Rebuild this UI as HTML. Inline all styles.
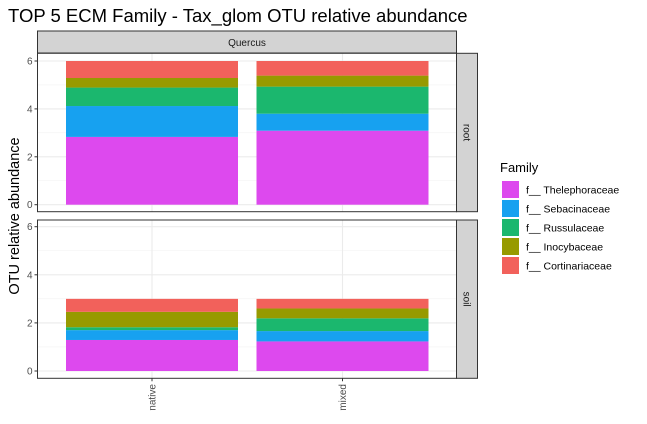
<!DOCTYPE html>
<html><head><meta charset="utf-8"><style>
body{margin:0;background:#fff}
svg{display:block;font-family:"Liberation Sans",sans-serif}
</style></head><body>
<svg id="c" width="647" height="424"></svg>
<script>
const categories=["native","mixed"];
const families=["f__ Thelephoraceae","f__ Sebacinaceae","f__ Russulaceae","f__ Inocybaceae","f__ Cortinariaceae"];
const colors=["#DD49EE","#17A1F0","#1BB76E","#979A00","#F2615B"];
const rootNative=[2.83,1.29,0.77,0.40,0.71];
const rootMixed=[3.09,0.71,1.13,0.46,0.61];
const soilNative=[1.29,0.41,0.12,0.64,0.54];
const soilMixed=[1.23,0.43,0.53,0.41,0.40];
const yTicks=[0,2,4,6];
const panels=[{label:"root",top:53.3,bottom:211.7,y0:204.7,y6:61,data:[rootNative,rootMixed]},
{label:"soil",top:220,bottom:378.3,y0:371,y6:226.7,data:[soilNative,soilMixed]}];
const NS="http://www.w3.org/2000/svg";
const svg=document.getElementById('c');
function mk(t,a,p){const e=document.createElementNS(NS,t);for(const k in a)e.setAttribute(k,a[k]);(p||svg).appendChild(e);return e;}
const L=37.5,R=456.5;
function xc(i){return 152+i*190.5;}
const bw=172;
let t=mk('text',{x:8,y:22,'font-size':18.5,fill:'#000'});t.textContent="TOP 5 ECM Family - Tax_glom OTU relative abundance";

let s=mk('rect',{x:L,y:31,width:R-L,height:22,fill:'#d3d3d3',stroke:'#333','stroke-width':1});

t=mk('text',{x:(L+R)/2,y:46,'font-size':10,'text-anchor':'middle',fill:'#1a1a1a'});t.textContent="Quercus";

panels.forEach(p=>{
 const sc=(p.y0-p.y6)/6; const y=v=>p.y0-v*sc;
 const g=mk('g',{});
 mk('rect',{x:L,y:p.top,width:R-L,height:p.bottom-p.top,fill:'#fff'},g);
 [1,3,5].forEach(v=>mk('line',{x1:L,x2:R,y1:y(v),y2:y(v),stroke:'#f2f2f2','stroke-width':0.6},g));
 yTicks.forEach(v=>mk('line',{x1:L,x2:R,y1:y(v),y2:y(v),stroke:'#ebebeb','stroke-width':1.1},g));
 categories.forEach((c,i)=>mk('line',{x1:xc(i),x2:xc(i),y1:p.top,y2:p.bottom,stroke:'#ebebeb','stroke-width':1.1},g));
 p.data.forEach((vals,i)=>{let cum=0;vals.forEach((v,k)=>{
  const r=mk('rect',{x:xc(i)-bw/2,y:y(cum+v),width:bw,height:v*sc,fill:colors[k]},g);
  
  cum+=v;});});
 mk('rect',{x:L,y:p.top,width:R-L,height:p.bottom-p.top,fill:'none',stroke:'#333','stroke-width':1},g);
 yTicks.forEach(v=>{mk('line',{x1:L-3,x2:L,y1:y(v),y2:y(v),stroke:'#333'},g);
  const tt=mk('text',{x:L-5,y:y(v)+3.5,'font-size':10,'text-anchor':'end',fill:'#4d4d4d'},g);tt.textContent=v;
  });
 const st=mk('rect',{x:R,y:p.top,width:21,height:p.bottom-p.top,fill:'#d3d3d3',stroke:'#333','stroke-width':1},g);
 
 const cy=(p.top+p.bottom)/2;
 const lt=mk('text',{x:R+10.5,y:cy,'font-size':10,'text-anchor':'middle',fill:'#1a1a1a',transform:`rotate(90 ${R+10.5} ${cy})`,dy:3.5},g);lt.textContent=p.label;
 
});
categories.forEach((c,i)=>{mk('line',{x1:xc(i),x2:xc(i),y1:378.3,y2:381.3,stroke:'#333'});
 const tt=mk('text',{x:xc(i)+3.5,y:384,'font-size':10,'text-anchor':'end',fill:'#4d4d4d',transform:`rotate(-90 ${xc(i)+3.5} 384)`});tt.textContent=c;
 });
t=mk('text',{x:19,y:216,'font-size':14.5,'text-anchor':'middle',fill:'#000',transform:'rotate(-90 19 216)'});t.textContent="OTU relative abundance";

t=mk('text',{x:500,y:172,'font-size':13,fill:'#000'});t.textContent="Family";

families.forEach((f,k)=>{const yy=181+k*19;
 const g=mk('g',{});
 mk('rect',{x:502,y:yy,width:17,height:17,fill:colors[k]},g);
 const tt=mk('text',{x:526,y:yy+12.5,'font-size':10.5,fill:'#000'},g);tt.textContent=f;});
</script>
</body></html>
